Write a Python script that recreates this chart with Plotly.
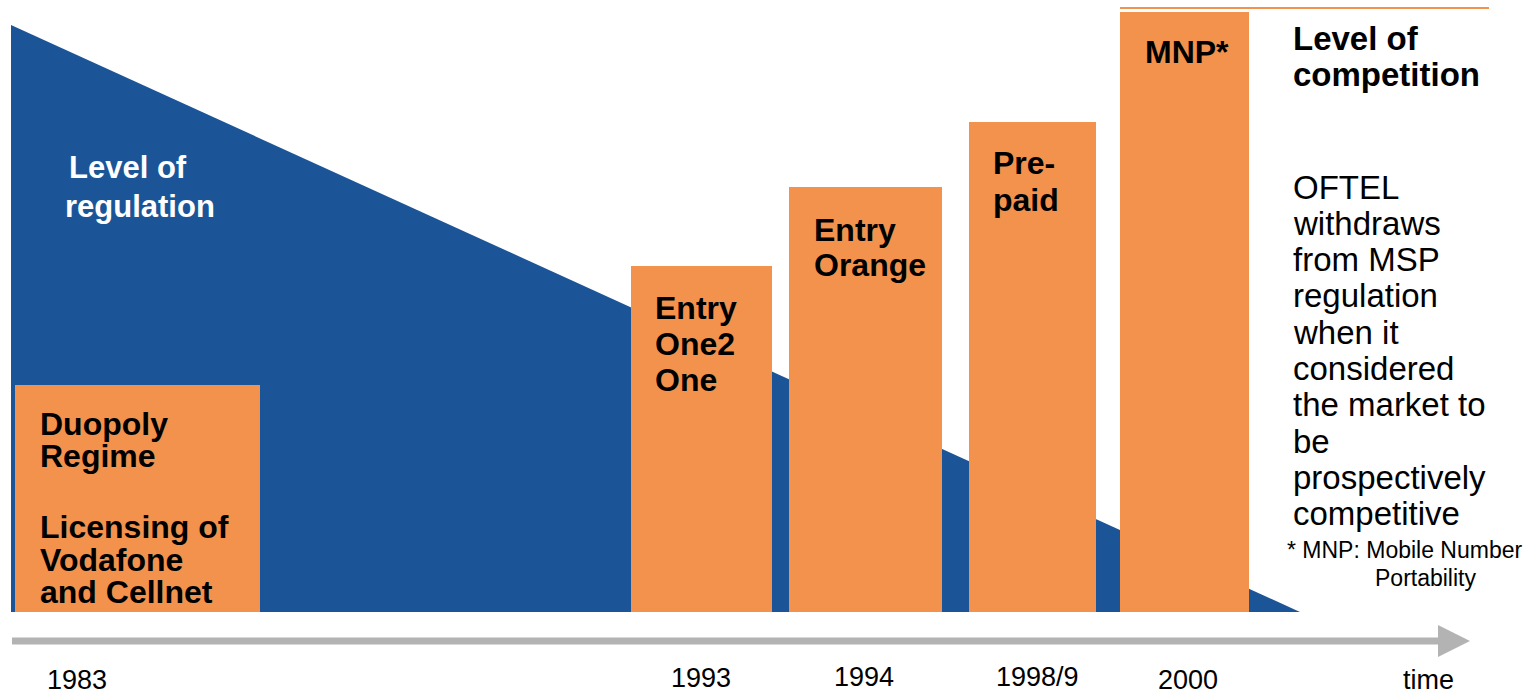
import plotly.graph_objects as go

# ---- data ----
years = ["1983", "1993", "1994", "1998/9", "2000"]
competition_level = [227, 346, 425, 490, 600]        # bar heights (level of competition)
regulation_start, regulation_end = 587, 0             # level of regulation (declining)
bar_labels = [
    ["Duopoly", "Regime", "", "Licensing of", "Vodafone", "and Cellnet"],
    ["Entry", "One2", "One"],
    ["Entry", "Orange"],
    ["Pre-", "paid"],
    ["MNP*"],
]
oftel_lines = ["OFTEL", "withdraws", "from MSP", "regulation", "when it", "considered",
               "the market to", "be", "prospectively", "competitive"]

# ---- layout geometry (positions in axis units) ----
bar_left = [15, 631, 789, 969, 1120]
bar_right = [260, 772, 942, 1096, 1249]
tri_left, tri_right = 11, 1300

BLUE = "#1B5598"
ORANGE = "#F2924D"
GREY = "#B3B3B3"
FONT = "Liberation Sans, Arial, sans-serif"

fig = go.Figure()

# competition bars
centers = [(l + r) / 2 for l, r in zip(bar_left, bar_right)]
widths = [r - l for l, r in zip(bar_left, bar_right)]
fig.add_trace(go.Bar(
    x=centers, y=competition_level, width=widths, base=0,
    marker=dict(color=ORANGE, line=dict(width=0)),
    hovertext=years, showlegend=False))

def ypix(p):  # picture row -> axis units (y axis = 612 - row)
    return 612 - p

ann = []
# bar texts
bar_text_x = [38, 653, 812, 991, 1143]
bar_text_rows = [
    [424, 456, None, 527, 560, 592],
    [308, 344, 380],
    [230, 265],
    [163, 200],
    [52],
]
for tx, lines, rows in zip(bar_text_x, bar_labels, bar_text_rows):
    for t, r in zip(lines, rows):
        if not t:
            continue
        ann.append(dict(x=tx, y=ypix(r), text=t, xanchor="left", yanchor="middle",
                        showarrow=False, font=dict(family=FONT, size=32, color="black", weight="bold")))

# Level of regulation
for t, cx, r in zip(["Level of", "regulation"], [127.5, 140], [167, 206]):
    ann.append(dict(x=cx, y=ypix(r), text=t, xanchor="center", yanchor="middle",
                    showarrow=False, font=dict(family=FONT, size=31, color="white", weight="bold")))

# Level of competition
for t, r in zip(["Level of", "competition"], [38, 74]):
    ann.append(dict(x=1291, y=ypix(r), text=t, xanchor="left", yanchor="middle",
                    showarrow=False, font=dict(family=FONT, size=33, color="black", weight="bold")))

# OFTEL text
for i, t in enumerate(oftel_lines):
    ann.append(dict(x=1291, y=ypix(187 + i * 36.3), text=t, xanchor="left", yanchor="middle",
                    showarrow=False, font=dict(family=FONT, size=33, color="black")))

# footnote
ann.append(dict(x=1285, y=ypix(550), text="* MNP: Mobile Number", xanchor="left", yanchor="middle",
                showarrow=False, font=dict(family=FONT, size=23, color="black")))
ann.append(dict(x=1425, y=ypix(578), text="Portability", xanchor="center", yanchor="middle",
                showarrow=False, font=dict(family=FONT, size=23, color="black")))

# year labels
year_x = [77, 701, 864, 1037, 1188]
year_rows = [680, 678, 677, 677, 680]
for t, x, r in zip(years, year_x, year_rows):
    ann.append(dict(x=x, y=ypix(r), text=t, xanchor="center", yanchor="middle",
                    showarrow=False, font=dict(family=FONT, size=27, color="black")))
ann.append(dict(x=1428, y=ypix(680), text="time", xanchor="center", yanchor="middle",
                showarrow=False, font=dict(family=FONT, size=27, color="black")))

# regulation triangle, drawn in axis units beneath the bars
tri_path = (f"M {tri_left} 0 L {tri_left} {regulation_start} "
            f"L {tri_right} {regulation_end} Z")

shapes = [
    dict(type="path", path=tri_path, xref="x", yref="y", fillcolor=BLUE,
         line=dict(width=0), layer="below"),
    # time arrow shaft
    dict(type="line", x0=12, x1=1442, y0=ypix(641), y1=ypix(641),
         line=dict(color=GREY, width=7)),
    # arrow head
    dict(type="path", path=f"M 1438 {ypix(625)} L 1470 {ypix(641)} L 1438 {ypix(657)} Z",
         fillcolor=GREY, line=dict(width=0)),
    # top orange line
    dict(type="line", x0=1120, x1=1489, y0=ypix(8), y1=ypix(8),
         line=dict(color=ORANGE, width=2)),
]

fig.update_layout(
    width=1538, height=694, margin=dict(l=0, r=0, t=0, b=0),
    paper_bgcolor="white", plot_bgcolor="white",
    xaxis=dict(range=[0, 1538], visible=False, fixedrange=True),
    yaxis=dict(range=[612 - 694, 612], visible=False, fixedrange=True),
    annotations=ann, shapes=shapes, bargap=0,
)

fig.write_html("out.html")
